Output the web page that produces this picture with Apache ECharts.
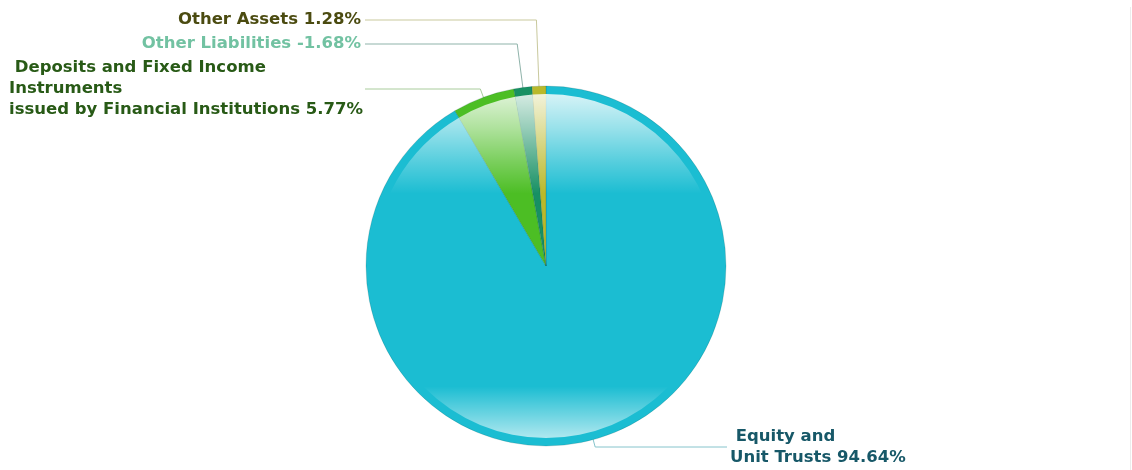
<!DOCTYPE html>
<html>
<head>
<meta charset="utf-8">
<script src="https://cdn.jsdelivr.net/npm/echarts@6/dist/echarts.min.js"></script>
<style>
  html, body { margin: 0; padding: 0; background: #ffffff; }
  #wrap { position: relative; width: 1132px; height: 470px; }
  #chart { width: 1132px; height: 470px; }
  #edge { position: absolute; left: 1130px; top: 7px; width: 1px; height: 463px; background: #ececec; }
</style>
</head>
<body>
<div id="wrap">
  <div id="chart"></div>
  <div id="edge"></div>
</div>
<script>
// Asset allocation (percent of fund)
const categories = [
  ' Equity and\nUnit Trusts',
  ' Deposits and Fixed Income\nInstruments\nissued by Financial Institutions',
  'Other Liabilities',
  'Other Assets'
];
const values = [94.64, 5.77, -1.68, 1.28];

// Slice, label text and leader line colours, one per category
const sliceColors = ['#1bbdd2', '#4cbe24', '#179063', '#b9b92b'];
const textColors  = ['#175868', '#285a16', '#72c2a2', '#4b4b10'];
const lineColors  = ['#86c4cc', '#a9cc9c', '#8fb3aa', '#c9c99d'];

// Pie geometry
const CX = 546, CY = 266, R = 180, R_INNER = 172, LINE_START = 170;

// Where each label sits and where its leader line ends
const anchors = [
  { x: 730, y: 447, align: 'left',  lineEnd: 727 },
  { x: 9,   y: 89,  align: 'left',  lineEnd: 365 },
  { x: 361, y: 44,  align: 'right', lineEnd: 365 },
  { x: 361, y: 20,  align: 'right', lineEnd: 365 }
];

const pieValues = values.map(v => Math.abs(v));

const baseData = categories.map((name, i) => ({
  name: name,
  value: pieValues[i],
  itemStyle: { color: sliceColors[i] }
}));

// Gloss layer: white sheen at top and bottom, clear in the middle
const gloss = {
  type: 'linear', x: 0, y: CY - R_INNER, x2: 0, y2: CY + R_INNER, global: true,
  colorStops: [
    { offset: 0.00, color: 'rgba(255,255,255,0.82)' },
    { offset: 0.10, color: 'rgba(255,255,255,0.55)' },
    { offset: 0.20, color: 'rgba(255,255,255,0.25)' },
    { offset: 0.29, color: 'rgba(255,255,255,0.0)' },
    { offset: 0.85, color: 'rgba(255,255,255,0.0)' },
    { offset: 0.92, color: 'rgba(255,255,255,0.30)' },
    { offset: 1.00, color: 'rgba(255,255,255,0.65)' }
  ]
};

const glossData = categories.map((name, i) => ({
  name: name,
  value: pieValues[i],
  itemStyle: { color: gloss },
  label: { color: textColors[i] },
  labelLine: { lineStyle: { color: lineColors[i] } }
}));

const chart = echarts.init(document.getElementById('chart'), null, { renderer: 'canvas' });

chart.setOption({
  animation: false,
  backgroundColor: '#ffffff',
  series: [
    {
      type: 'pie',
      center: [CX, CY],
      radius: [0, R],
      startAngle: 90,
      clockwise: true,
      silent: true,
      label: { show: false },
      labelLine: { show: false },
      itemStyle: { borderColor: 'rgba(0,60,60,0.28)', borderWidth: 0.6 },
      data: baseData
    },
    {
      type: 'pie',
      center: [CX, CY],
      radius: [0, R_INNER],
      startAngle: 90,
      clockwise: true,
      silent: true,
      avoidLabelOverlap: false,
      label: {
        show: true,
        position: 'outside',
        fontFamily: 'DejaVu Sans',
        fontWeight: 'bold',
        fontSize: 16.5,
        lineHeight: 21,
        formatter: p => p.name + ' ' + values[p.dataIndex].toFixed(2) + '%'
      },
      labelLine: { show: true, length: 10, length2: 10, smooth: false, lineStyle: { width: 1 } },
      labelLayout: function (params) {
        const i = params.dataIndex;
        const a = anchors[i];
        let ux, uy;
        const pts = params.labelLinePoints;
        if (pts && pts.length) {
          const dx = pts[0][0] - CX, dy = pts[0][1] - CY;
          const len = Math.hypot(dx, dy) || 1;
          ux = dx / len; uy = dy / len;
        } else {
          const total = pieValues.reduce((s, v) => s + v, 0);
          let before = 0;
          for (let k = 0; k < i; k++) before += pieValues[k];
          const ang = (before + pieValues[i] / 2) / total * 2 * Math.PI;
          ux = Math.sin(ang); uy = -Math.cos(ang);
        }
        const start = [CX + ux * LINE_START, CY + uy * LINE_START];
        const t = (a.y - CY) / uy;
        const bend = [CX + ux * t, a.y];
        const end = [a.lineEnd, a.y];
        return {
          x: a.x,
          y: a.y,
          align: a.align,
          verticalAlign: 'middle',
          labelLinePoints: [start, bend, end]
        };
      },
      data: glossData
    }
  ]
});
</script>
</body>
</html>
